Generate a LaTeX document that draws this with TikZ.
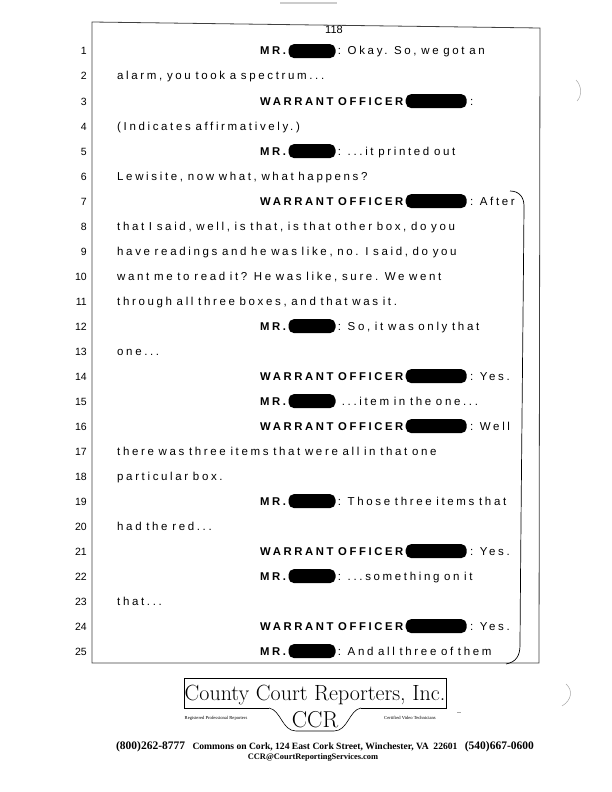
\documentclass[tikz,border=0pt]{standalone}
\usepackage{fontspec}
\newfontfamily\trfont[LetterSpace=23,WordSpace=0.8]{Liberation Sans}
\newfontfamily\numfont{Liberation Sans}
\newfontfamily\adrfont{Liberation Serif}
\usetikzlibrary{positioning}

\begin{document}
\begin{tikzpicture}[x=1pt,y=-1pt,
  txt/.style={anchor=base west, inner sep=0pt, font=\trfont\fontsize{11.5}{13}\selectfont},
  spk/.style={txt, font=\trfont\bfseries\fontsize{11.3}{13}\selectfont},
  lnum/.style={anchor=base east, inner sep=0pt, font=\numfont\fontsize{10.5}{12}\selectfont},
  redact/.style={fill=black, rounded corners=5.5pt, minimum height=14pt, inner sep=0pt},
  mrbar/.style={redact, minimum width=47pt},
  wobar/.style={redact, minimum width=61pt},
  frame/.style={line width=0.8pt, black!75},
  noise/.style={line width=0.5pt, black!35}]
\useasboundingbox (0,0) rectangle (612,792);
\fill[white] (0,0) rectangle (612,792);

% page frame and number
\draw[frame] (92,663) -- (92,22) -- (540,28) -- (539,663) -- cycle;
\node[anchor=base, inner sep=0pt, font=\numfont\fontsize{11}{12}\selectfont] (page) at (334,34) {118};
\draw[line width=2pt, black!20] (280,3) -- (337,3);

% line numbers and line starts
\foreach \n in {1,...,25} {
  \coordinate (c\n) at (117,{55+25*(\n-1)});
  \coordinate (s\n) at (260,{55+25*(\n-1)});
  \node[lnum] (n\n) at (87,{55+25*(\n-1)}) {\n};
}

\node[spk] (sp1) at (s1) {MR.};
\node[mrbar, right=2pt of sp1] (r1) {};
\node[txt, xshift=2pt] (t1) at (r1.east |- sp1.base) {: Okay. So, we got an};
\node[txt] (t2) at (c2) {alarm, you took a spectrum...};
\node[spk] (sp3) at (s3) {WARRANT OFFICER};
\node[wobar, right=2pt of sp3] (r3) {};
\node[txt, xshift=3pt] (t3) at (r3.east |- sp3.base) {:};
\node[txt] (t4) at (c4) {(Indicates affirmatively.)};
\node[spk] (sp5) at (s5) {MR.};
\node[mrbar, right=2pt of sp5] (r5) {};
\node[txt, xshift=2pt] (t5) at (r5.east |- sp5.base) {: ...it printed out};
\node[txt] (t6) at (c6) {Lewisite, now what, what happens?};
\node[spk] (sp7) at (s7) {WARRANT OFFICER};
\node[wobar, right=2pt of sp7] (r7) {};
\node[txt, xshift=3pt] (t7) at (r7.east |- sp7.base) {: After};
\node[txt] (t8) at (c8) {that I said, well, is that, is that other box, do you};
\node[txt] (t9) at (c9) {have readings and he was like, no. I said, do you};
\node[txt] (t10) at (c10) {want me to read it? He was like, sure. We went};
\node[txt] (t11) at (c11) {through all three boxes, and that was it.};
\node[spk] (sp12) at (s12) {MR.};
\node[mrbar, right=2pt of sp12] (r12) {};
\node[txt, xshift=2pt] (t12) at (r12.east |- sp12.base) {: So, it was only that};
\node[txt] (t13) at (c13) {one...};
\node[spk] (sp14) at (s14) {WARRANT OFFICER};
\node[wobar, right=2pt of sp14] (r14) {};
\node[txt, xshift=3pt] (t14) at (r14.east |- sp14.base) {: Yes.};
\node[spk] (sp15) at (s15) {MR.};
\node[mrbar, right=2pt of sp15] (r15) {};
\node[txt, xshift=6pt] (t15) at (r15.east |- sp15.base) {...item in the one...};
\node[spk] (sp16) at (s16) {WARRANT OFFICER};
\node[wobar, right=2pt of sp16] (r16) {};
\node[txt, xshift=3pt] (t16) at (r16.east |- sp16.base) {: Well};
\node[txt] (t17) at (c17) {there was three items that were all in that one};
\node[txt] (t18) at (c18) {particular box.};
\node[spk] (sp19) at (s19) {MR.};
\node[mrbar, right=2pt of sp19] (r19) {};
\node[txt, xshift=2pt] (t19) at (r19.east |- sp19.base) {: Those three items that};
\node[txt] (t20) at (c20) {had the red...};
\node[spk] (sp21) at (s21) {WARRANT OFFICER};
\node[wobar, right=2pt of sp21] (r21) {};
\node[txt, xshift=3pt] (t21) at (r21.east |- sp21.base) {: Yes.};
\node[spk] (sp22) at (s22) {MR.};
\node[mrbar, right=2pt of sp22] (r22) {};
\node[txt, xshift=2pt] (t22) at (r22.east |- sp22.base) {: ...something on it};
\node[txt] (t23) at (c23) {that...};
\node[spk] (sp24) at (s24) {WARRANT OFFICER};
\node[wobar, right=2pt of sp24] (r24) {};
\node[txt, xshift=3pt] (t24) at (r24.east |- sp24.base) {: Yes.};
\node[spk] (sp25) at (s25) {MR.};
\node[mrbar, right=2pt of sp25] (r25) {};
\node[txt, xshift=2pt] (t25) at (r25.east |- sp25.base) {: And all three of them};

% hand drawn bracket
\draw[line width=0.7pt] (510,191) .. controls (519,191) and (524,197) .. (524,206)
  .. controls (523,330) and (521,500) .. (520,645)
  .. controls (520,656) and (516,662) .. (506,664);

% reporter logo
\node[anchor=base, inner sep=0pt, font=\fontsize{22}{24}\selectfont] (cname) at (315,700) {County Court Reporters, Inc.};
\draw[line width=0.6pt] (269,708) -- (184,708) -- (184,678) -- (446,678) -- (446,708) -- (361,708);
\draw[line width=0.6pt] (269,708) .. controls (281,710) and (282,731) .. (296,731) -- (334,731)
  .. controls (348,731) and (349,710) .. (361,708);
\node[anchor=base, inner sep=0pt, font=\fontsize{23}{25}\selectfont] (ccr) at (315,727) {CCR};
\node[anchor=base, inner sep=0pt, font=\adrfont\fontsize{4.6}{5}\selectfont] (reg) at (216,719) {Registered Professional Reporters};
\node[anchor=base, inner sep=0pt, font=\adrfont\fontsize{4.6}{5}\selectfont] (cert) at (410,719) {Certified Video Technicians};

% address lines
\node[anchor=base, inner sep=0pt, font=\adrfont\bfseries\fontsize{9.6}{10}\selectfont] (addr) at (325,749) {Commons on Cork, 124 East Cork Street, Winchester, VA\ \ 22601};
\node[anchor=base east, inner sep=0pt, font=\adrfont\bfseries\fontsize{11.5}{12}\selectfont] (ph1) at ([xshift=-7pt]addr.base west) {(800)262-8777};
\node[anchor=base west, inner sep=0pt, font=\adrfont\bfseries\fontsize{11.5}{12}\selectfont] (ph2) at ([xshift=7pt]addr.base east) {(540)667-0600};
\node[anchor=base, inner sep=0pt, font=\adrfont\bfseries\fontsize{8.4}{9}\selectfont] (mail) at (313,759) {CCR@CourtReportingServices.com};

% scan marks
\draw[noise] (576,80) .. controls (582,86) and (582,96) .. (577,101);
\draw[noise] (566,684) .. controls (573,690) and (572,700) .. (562,706);
\draw[noise] (457,712) -- (461,712);
\end{tikzpicture}
\end{document}
